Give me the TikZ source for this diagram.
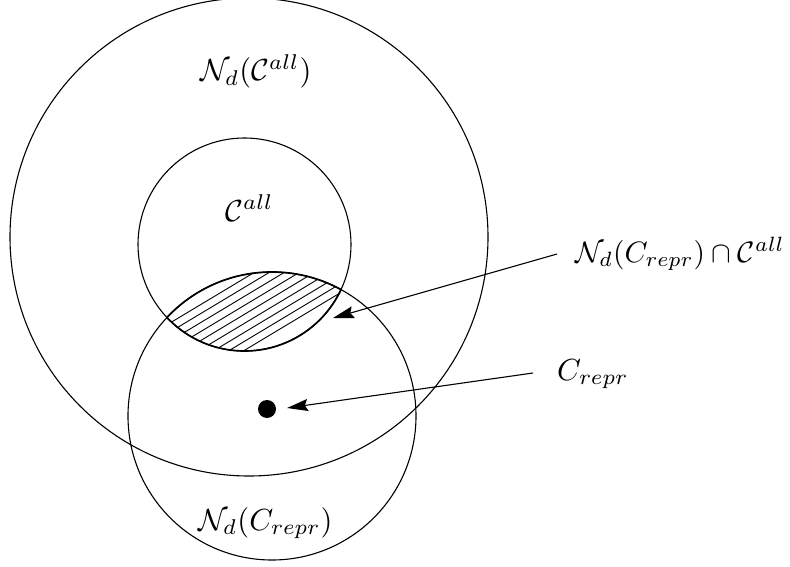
\documentclass[tikz,border=0pt]{standalone}
\usetikzlibrary{arrows.meta}
\begin{document}
\begin{tikzpicture}[x=1pt,y=-1pt,
  ring/.style={draw=black,line width=1.1pt},
  lbl/.style={inner sep=0pt,anchor=base west},
  ptr/.style={draw=black,line width=1.1pt,-{Stealth[length=21pt,width=12pt,inset=3pt]}}]
\useasboundingbox (0,0) rectangle (790,567);
% circles
\draw[ring] (249,237) circle[radius=239];
\draw[ring] (244.5,244.5) circle[radius=106.5];
\draw[ring] (272,416) circle[radius=144];
% hatched lens
\begin{scope}
  \clip (244.5,244.5) circle[radius=106.5];
  \clip (272,416) circle[radius=144];
  \foreach \b in {425,434,...,505} {
    \draw[line width=0.9pt] (130,\b-78) -- (360,\b-216);
  }
\end{scope}
\begin{scope}
  \clip (244.5,244.5) circle[radius=106.5];
  \draw[line width=1.7pt] (272,416) circle[radius=144];
\end{scope}
\begin{scope}
  \clip (272,416) circle[radius=144];
  \draw[line width=1.7pt] (244.5,244.5) circle[radius=106.5];
\end{scope}
% dot
\node[circle,fill=black,inner sep=0pt,minimum size=18pt] (dot) at (267,409) {};
% labels
\node[lbl] (nall) at (200,81) {\scalebox{3.05}{$\mathcal{N}_d(\mathcal{C}^{all})$}};
\node[lbl] (call) at (225,221) {\scalebox{3.05}{$\mathcal{C}^{all}$}};
\node[lbl] (ninter) at (575,262) {\scalebox{2.95}{$\mathcal{N}_d(C_{repr})\cap\mathcal{C}^{all}$}};
\node[lbl] (crepr) at (557,380) {\scalebox{3.05}{$C_{repr}$}};
\node[lbl] (nrepr) at (198,530) {\scalebox{3.05}{$\mathcal{N}_d(C_{repr})$}};
% arrows
\coordinate (a1s) at (557,254);
\coordinate (a1e) at (333,318);
\coordinate (a2s) at (533,373);
\coordinate (a2e) at (287,408);
\draw[ptr] (a1s) -- (a1e);
\draw[ptr] (a2s) -- (a2e);
\end{tikzpicture}
\end{document}
